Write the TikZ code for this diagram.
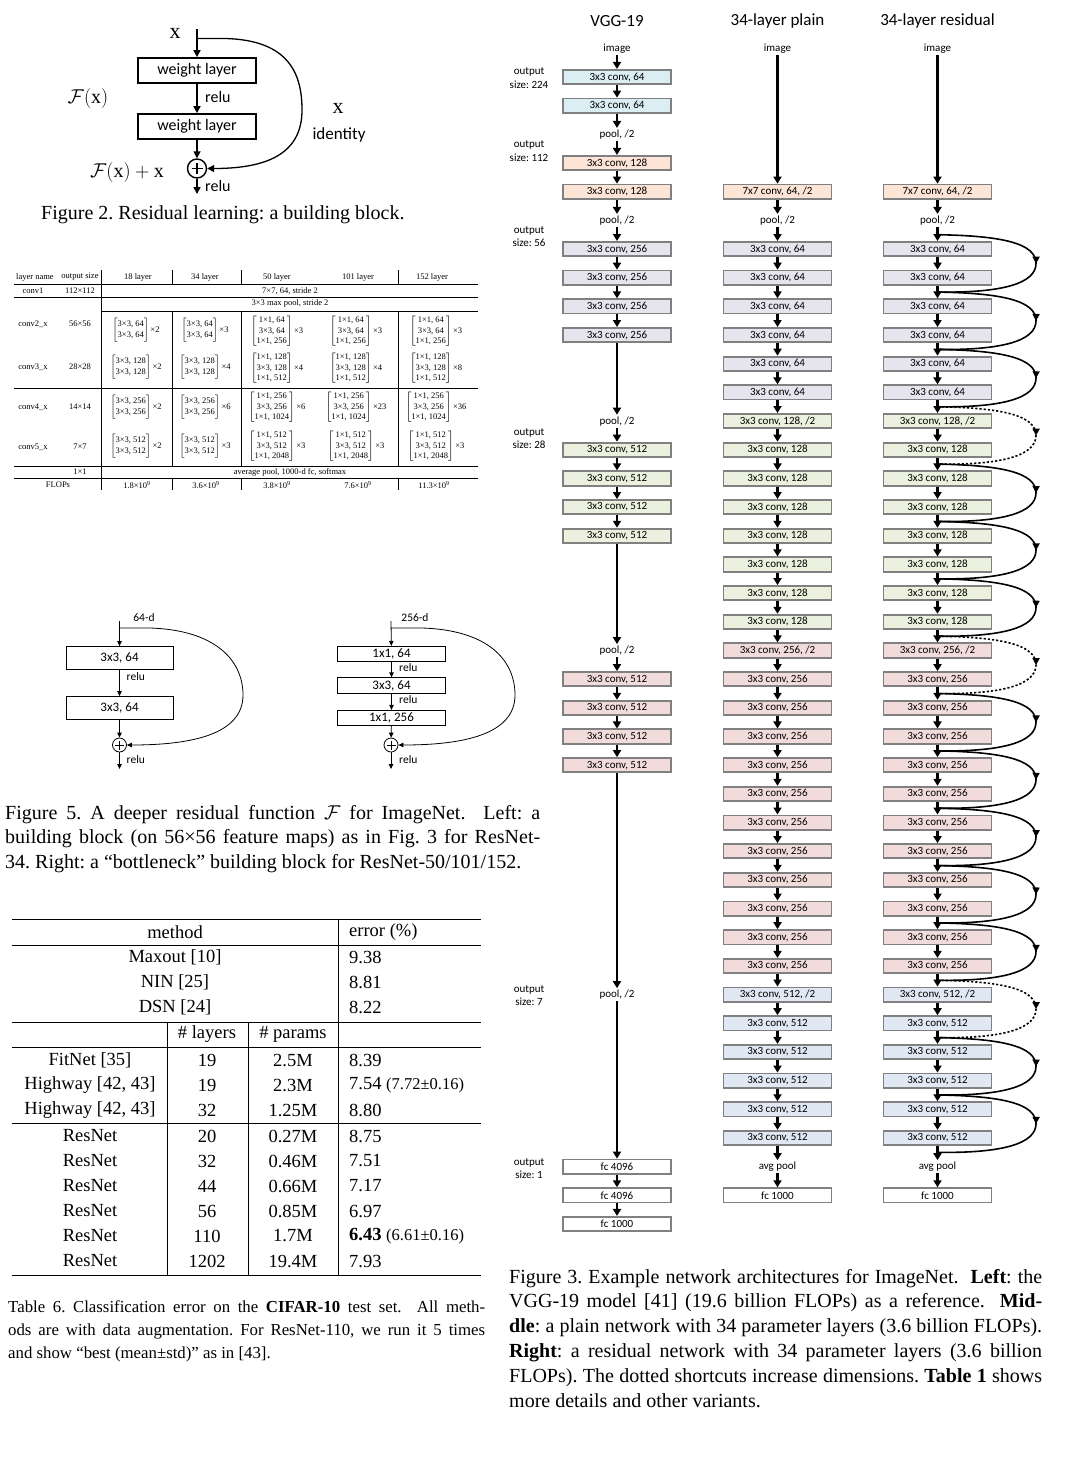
\RequirePackage{fix-cm}
\documentclass[tikz,border=0pt]{standalone}
\usepackage{fontspec}
\setmainfont{Liberation Serif}
\newfontfamily\calib{Carlito}
\usetikzlibrary{arrows.meta,decorations.markings}
\newcommand\myfs[2]{\fontsize{#1}{#2}\selectfont}
\newcommand\brk[2]{$\left[\mbox{\begin{tabular}{@{}c@{}}#1\end{tabular}}\right]$\,×#2}
\newcommand\jline[2]{\makebox[#1][s]{#2}}
\definecolor{bxgray}{RGB}{128,128,128}
\definecolor{cblue}{RGB}{218,238,243}
\definecolor{cpeach}{RGB}{252,228,214}
\definecolor{clav}{RGB}{230,229,238}
\definecolor{cgreen}{RGB}{235,241,222}
\definecolor{cpink}{RGB}{242,220,219}
\definecolor{cgblue}{RGB}{224,233,243}
\newcommand\netcol[2]{%
  \node[plbl] (#1m1) at (#2,49) {image};
  \node[blk,fill=cpeach] (#14) at (#2,{77+4*28.675}) {7x7 conv, 64, /2};
  \node[plbl] (#15) at (#2,{77+5*28.675}) {pool, /2};
  \foreach \ro in {6,...,11}{\node[blk,fill=clav] (#1\ro) at (#2,{77+\ro*28.675}) {3x3 conv, 64};}
  \node[blk,fill=cgreen] (#112) at (#2,{77+12*28.675}) {3x3 conv, 128, /2};
  \foreach \ro in {13,...,19}{\node[blk,fill=cgreen] (#1\ro) at (#2,{77+\ro*28.675}) {3x3 conv, 128};}
  \node[blk,fill=cpink] (#120) at (#2,{77+20*28.675}) {3x3 conv, 256, /2};
  \foreach \ro in {21,...,31}{\node[blk,fill=cpink] (#1\ro) at (#2,{77+\ro*28.675}) {3x3 conv, 256};}
  \node[blk,fill=cgblue] (#132) at (#2,{77+32*28.675}) {3x3 conv, 512, /2};
  \foreach \ro in {33,...,37}{\node[blk,fill=cgblue] (#1\ro) at (#2,{77+\ro*28.675}) {3x3 conv, 512};}
  \node[plbl] (#138) at (#2,{77+38*28.675}) {avg pool};
  \node[blk,fill=white] (#139) at (#2,{77+39*28.675}) {fc 1000};
  \draw[farr] (#1m1) -- (#14);
  \foreach \ro in {4,...,38}{\pgfmathtruncatemacro\nb{\ro+1}\draw[farr] (#1\ro) -- (#1\nb);}
}
\begin{document}
\frenchspacing
\begin{tikzpicture}[x=1pt,y=-1pt,
  every node/.style={inner sep=0pt},
  blk/.style={draw=bxgray, line width=1.8pt, minimum width=108pt, minimum height=14.3pt, font=\calib\myfs{11}{13}},
  plbl/.style={font=\calib\myfs{11}{13}, inner sep=1.5pt},
  olbl/.style={font=\calib\myfs{11}{13.5}, align=center},
  ttl/.style={font=\calib\myfs{17}{20}},
  farr/.style={-{Triangle[width=8pt,length=7pt]}, line width=2.2pt},
  sc/.style={line width=1.6pt, postaction={decorate}, decoration={markings, mark=at position 0.5 with {\arrow{Triangle[width=7pt,length=7pt]}}}},
  scsolid/.style={solid},
  scdot/.style={dash pattern=on 2.2pt off 2pt},
  wbox/.style={draw, line width=1.7pt, minimum width=118pt, minimum height=25pt, font=\calib\myfs{16}{19}},
  f2arr/.style={-{Triangle[width=7pt,length=7pt]}, line width=1.6pt},
  f5box/.style={draw, line width=0.8pt, font=\calib\myfs{13}{15}},
  f5arr/.style={-{Triangle[width=4.5pt,length=5pt]}, line width=0.8pt},
  f5lbl/.style={font=\calib\myfs{11.5}{13}},
  capl/.style={anchor=base west, font=\myfs{20}{24}},
  t1/.style={font=\myfs{8.5}{10.5}},
  t6/.style={font=\myfs{18.5}{22}},
]
\useasboundingbox (0,0) rectangle (1078,1470);
\fill[white] (0,0) rectangle (1078,1470);

%================ Figure 2 ================
\node[font=\myfs{22}{24}] (x2lbl) at (175,33) {x};
\coordinate (f2in) at (197,29);
\node[wbox] (w1) at (197,70.5) {weight layer};
\node[wbox] (w2) at (197,126.5) {weight layer};
\node[circle, draw, line width=1.4pt, minimum size=19pt] (add2) at (197,168.5) {};
\draw[line width=1.8pt] ([xshift=-5.5pt]add2.center) -- ([xshift=5.5pt]add2.center)
  ([yshift=-5.5pt]add2.center) -- ([yshift=5.5pt]add2.center);
\coordinate (f2out) at (197,194);
\coordinate (f2split) at (197,38.5);
\draw[f2arr] (f2in) -- (w1);
\draw[f2arr] (w1) -- (w2);
\draw[f2arr] (w2) -- (add2);
\draw[f2arr] (add2) -- (f2out);
\draw[f2arr, line width=1.3pt] (f2split) -- (225,38.5) .. controls (290,40) and (302,75) .. (302,110)
  .. controls (302,155) and (265,168.5) .. (add2.east);
\node[anchor=west, font=\calib\myfs{16}{19}] (relu2a) at (205,97) {relu};
\node[anchor=west, font=\calib\myfs{16}{19}] (relu2b) at (205,186) {relu};
\node[font=\myfs{22}{24}] (x2id) at (338,108) {x};
\node[font=\calib\myfs{17}{20}] (id2) at (339,135) {identity};
\node[font=\myfs{20}{22}] (fx2) at (88,98) {$\mathcal{F}(\mathrm{x})$};
\node[font=\myfs{20}{22}] (fxx2) at (127,172) {$\mathcal{F}(\mathrm{x})+\mathrm{x}$};
\node[capl] (cap2) at (41,219) {Figure 2. Residual learning: a building block.};

%================ Table 1 ================
\draw[line width=0.5pt] (14,284) -- (478,284);
\draw[line width=0.8pt] (14,297) -- (478,297);
\draw[line width=0.5pt] (101,311) -- (478,311);
\draw[line width=0.8pt] (14,388) -- (478,388);
\draw[line width=0.8pt] (14,466) -- (478,466);
\draw[line width=0.5pt] (14,478) -- (478,478);
\draw[line width=0.6pt] (101,270) -- (101,490);
\foreach \vx in {172,241,398}{
  \draw[line width=0.6pt] (\vx,270) -- (\vx,284) (\vx,311) -- (\vx,466) (\vx,478) -- (\vx,490);}
\node[t1] (h1) at (35,277) {layer name};
\node[t1] (h2) at (80,277) {output size};
\node[t1] (h3) at (138,277) {18 layer};
\node[t1] (h4) at (205,277) {34 layer};
\node[t1] (h5) at (277,277) {50 layer};
\node[t1] (h6) at (358,277) {101 layer};
\node[t1] (h7) at (432,277) {152 layer};
\node[t1] (c1a) at (33,291) {conv1};
\node[t1] (c1b) at (80,291) {112×112};
\node[t1] (c1c) at (290,291) {7×7, 64, stride 2};
\node[t1] (mp) at (290,303.5) {3×3 max pool, stride 2};
\node[t1] (c2a) at (33,324) {conv2\_x};
\node[t1] (c2b) at (80,324) {56×56};
\node[t1] (c3a) at (33,367) {conv3\_x};
\node[t1] (c3b) at (80,367) {28×28};
\node[t1] (c4a) at (33,407) {conv4\_x};
\node[t1] (c4b) at (80,407) {14×14};
\node[t1] (c5a) at (33,447) {conv5\_x};
\node[t1] (c5b) at (80,447) {7×7};
\node[t1] (c6b) at (80,472) {1×1};
\node[t1] (c6c) at (290,472) {average pool, 1000-d fc, softmax};
\node[t1] (fl) at (58,485) {FLOPs};
\node[t1] (fl1) at (137,485) {1.8×10\textsuperscript{9}};
\node[t1] (fl2) at (206,485) {3.6×10\textsuperscript{9}};
\node[t1] (fl3) at (277,485) {3.8×10\textsuperscript{9}};
\node[t1] (fl4) at (358,485) {7.6×10\textsuperscript{9}};
\node[t1] (fl5) at (434,485) {11.3×10\textsuperscript{9}};
% 18 layer
\node[t1] (e18a) at (136,330) {\brk{3×3, 64\\3×3, 64}{2}};
\node[t1] (e18b) at (136,367) {\brk{3×3, 128\\3×3, 128}{2}};
\node[t1] (e18c) at (136,407) {\brk{3×3, 256\\3×3, 256}{2}};
\node[t1] (e18d) at (136,446) {\brk{3×3, 512\\3×3, 512}{2}};
% 34 layer
\node[t1] (e34a) at (205,330) {\brk{3×3, 64\\3×3, 64}{3}};
\node[t1] (e34b) at (205,367) {\brk{3×3, 128\\3×3, 128}{4}};
\node[t1] (e34c) at (205,407) {\brk{3×3, 256\\3×3, 256}{6}};
\node[t1] (e34d) at (205,446) {\brk{3×3, 512\\3×3, 512}{3}};
% 50 layer
\node[t1] (e50a) at (277,331) {\brk{1×1, 64\\3×3, 64\\1×1, 256}{3}};
\node[t1] (e50b) at (277,368) {\brk{1×1, 128\\3×3, 128\\1×1, 512}{4}};
\node[t1] (e50c) at (277,407) {\brk{1×1, 256\\3×3, 256\\1×1, 1024}{6}};
\node[t1] (e50d) at (277,446) {\brk{1×1, 512\\3×3, 512\\1×1, 2048}{3}};
% 101 layer
\node[t1] (e101a) at (356,331) {\brk{1×1, 64\\3×3, 64\\1×1, 256}{3}};
\node[t1] (e101b) at (356,368) {\brk{1×1, 128\\3×3, 128\\1×1, 512}{4}};
\node[t1] (e101c) at (356,407) {\brk{1×1, 256\\3×3, 256\\1×1, 1024}{23}};
\node[t1] (e101d) at (356,446) {\brk{1×1, 512\\3×3, 512\\1×1, 2048}{3}};
% 152 layer
\node[t1] (e152a) at (436,331) {\brk{1×1, 64\\3×3, 64\\1×1, 256}{3}};
\node[t1] (e152b) at (436,368) {\brk{1×1, 128\\3×3, 128\\1×1, 512}{8}};
\node[t1] (e152c) at (436,407) {\brk{1×1, 256\\3×3, 256\\1×1, 1024}{36}};
\node[t1] (e152d) at (436,446) {\brk{1×1, 512\\3×3, 512\\1×1, 2048}{3}};

%================ Figure 5 ================
% left block
\coordinate (a0) at (119.5,621);
\coordinate (asplit) at (119.5,628);
\node[f5box, minimum width=107pt, minimum height=23pt] (a1) at (119.5,658) {3x3, 64};
\node[f5box, minimum width=107pt, minimum height=23pt] (a2) at (119.5,708) {3x3, 64};
\node[circle, draw, line width=0.8pt, minimum size=14pt] (aadd) at (119.5,745) {};
\draw[line width=0.8pt] ([xshift=-4.5pt]aadd.center) -- ([xshift=4.5pt]aadd.center)
  ([yshift=-4.5pt]aadd.center) -- ([yshift=4.5pt]aadd.center);
\coordinate (aout) at (119.5,769);
\draw[f5arr] (a0) -- (a1);
\draw[f5arr] (a1) -- (a2);
\draw[f5arr] (a2) -- (aadd);
\draw[f5arr] (aadd) -- (aout);
\draw[f5arr] (asplit) -- (150,628) .. controls (215,630) and (243,660) .. (243,695)
  .. controls (243,735) and (190,745) .. (aadd.east);
\node[f5lbl] (ad) at (144,618) {64-d};
\node[f5lbl, anchor=west] (ar1) at (126.5,677) {relu};
\node[f5lbl, anchor=west] (ar2) at (126.5,760) {relu};
% right block
\coordinate (b0) at (391,621);
\coordinate (bsplit) at (391,628);
\node[f5box, minimum width=108pt, minimum height=15.5pt] (b1) at (391.5,654) {1x1, 64};
\node[f5box, minimum width=108pt, minimum height=15.5pt] (b2) at (391.5,685.5) {3x3, 64};
\node[f5box, minimum width=108pt, minimum height=15.5pt] (b3) at (391.5,718) {1x1, 256};
\node[circle, draw, line width=0.8pt, minimum size=14pt] (badd) at (391,745) {};
\draw[line width=0.8pt] ([xshift=-4.5pt]badd.center) -- ([xshift=4.5pt]badd.center)
  ([yshift=-4.5pt]badd.center) -- ([yshift=4.5pt]badd.center);
\coordinate (bout) at (391,769);
\draw[f5arr] (b0) -- (b1);
\draw[f5arr] (b1) -- (b2);
\draw[f5arr] (b2) -- (b3);
\draw[f5arr] (b3) -- (badd);
\draw[f5arr] (badd) -- (bout);
\draw[f5arr] (bsplit) -- (422,628) .. controls (488,630) and (515,660) .. (515,695)
  .. controls (515,735) and (462,745) .. (badd.east);
\node[f5lbl] (bd) at (415,618) {256-d};
\node[f5lbl, anchor=west] (br1) at (399,668) {relu};
\node[f5lbl, anchor=west] (br2) at (399,700) {relu};
\node[f5lbl, anchor=west] (br3) at (399,760) {relu};
% caption
\node[capl] (cap5a) at (5,819) {\jline{535pt}{Figure 5. A deeper residual function $\mathcal{F}$ for ImageNet.\ \ Left: a}};
\node[capl] (cap5b) at (5,843) {\jline{535pt}{building block (on 56×56 feature maps) as in Fig. 3 for ResNet-}};
\node[capl] (cap5c) at (5,868) {34. Right: a “bottleneck” building block for ResNet-50/101/152.};

%================ Table 6 ================
\draw[line width=0.9pt] (12,919) -- (481,919) (12,945) -- (481,945) (12,1022) -- (481,1022)
  (12,1047) -- (481,1047) (12,1123) -- (481,1123) (12,1275) -- (481,1275);
\draw[line width=0.9pt] (338,919) -- (338,1275) (167,1022) -- (167,1275) (248,1022) -- (248,1275);
\node[t6] (m0) at (175,932) {method};
\node[t6, anchor=west] (er0) at (349,932) {error (\%)};
\node[t6] (m1) at (175,957) {Maxout [10]};
\node[t6, anchor=west] (er1) at (349,957) {9.38};
\node[t6] (m2) at (175,982) {NIN [25]};
\node[t6, anchor=west] (er2) at (349,982) {8.81};
\node[t6] (m3) at (175,1007) {DSN [24]};
\node[t6, anchor=west] (er3) at (349,1007) {8.22};
\node[t6] (hl) at (207,1034) {\# layers};
\node[t6] (hp) at (293,1034) {\# params};
\foreach \ro/\me/\la/\pa/\er in {
  1060/{FitNet [35]}/19/2.5M/8.39,
  1085/{Highway [42, 43]}/19/2.3M/{7.54 {\myfs{16.5}{20}(7.72±0.16)}},
  1110/{Highway [42, 43]}/32/1.25M/8.80,
  1136/ResNet/20/0.27M/8.75,
  1161/ResNet/32/0.46M/7.51,
  1186/ResNet/44/0.66M/7.17,
  1211/ResNet/56/0.85M/6.97,
  1236/ResNet/110/1.7M/{\textbf{6.43} {\myfs{16.5}{20}(6.61±0.16)}},
  1261/ResNet/1202/19.4M/7.93}{
  \node[t6] (tm\ro) at (90,\ro) {\me};
  \node[t6] (tl\ro) at (207,\ro) {\la};
  \node[t6] (tp\ro) at (293,\ro) {\pa};
  \node[t6, anchor=west] (te\ro) at (349,\ro) {\er};
}
\node[anchor=base west, font=\myfs{16.8}{21}] (cap6a) at (8,1312) {\jline{477pt}{Table 6. Classification error on the \textbf{CIFAR-10} test set.\ \ All meth-}};
\node[anchor=base west, font=\myfs{16.8}{21}] (cap6b) at (8,1335) {\jline{477pt}{ods are with data augmentation. For ResNet-110, we run it 5 times}};
\node[anchor=base west, font=\myfs{16.8}{21}] (cap6c) at (8,1358) {and show “best (mean±std)” as in [43].};

%================ Figure 3 ================
\node[ttl] (tv) at (617,21) {VGG-19};
\node[ttl] (tpl) at (777.5,21) {34-layer plain};
\node[ttl] (tres) at (937.5,21) {34-layer residual};
\node[olbl] (o224) at (529,78) {output\\size: 224};
\node[olbl] (o112) at (529,151) {output\\size: 112};
\node[olbl] (o56) at (529,236.5) {output\\size: 56};
\node[olbl] (o28) at (529,438.5) {output\\size: 28};
\node[olbl] (o7) at (529,995.5) {output\\size: 7};
\node[olbl] (o1) at (529,1168.5) {output\\size: 1};
% VGG column
\node[plbl] (vm1) at (617,49) {image};
\foreach \ro/\tx/\co in {0/{3x3 conv, 64}/cblue, 1/{3x3 conv, 64}/cblue,
  3/{3x3 conv, 128}/cpeach, 4/{3x3 conv, 128}/cpeach,
  6/{3x3 conv, 256}/clav, 7/{3x3 conv, 256}/clav, 8/{3x3 conv, 256}/clav, 9/{3x3 conv, 256}/clav,
  13/{3x3 conv, 512}/cgreen, 14/{3x3 conv, 512}/cgreen, 15/{3x3 conv, 512}/cgreen, 16/{3x3 conv, 512}/cgreen,
  21/{3x3 conv, 512}/cpink, 22/{3x3 conv, 512}/cpink, 23/{3x3 conv, 512}/cpink, 24/{3x3 conv, 512}/cpink,
  38/{fc 4096}/white, 39/{fc 4096}/white, 40/{fc 1000}/white}{
  \node[blk, fill=\co] (v\ro) at (617,{77+\ro*28.675}) {\tx};
}
\foreach \ro in {2,5,12,20,32}{\node[plbl] (v\ro) at (617,{77+\ro*28.675}) {pool, /2};}
\foreach \ra/\rb in {m1/0,0/1,1/2,2/3,3/4,4/5,5/6,6/7,7/8,8/9,9/12,12/13,13/14,14/15,15/16,16/20,
  20/21,21/22,22/23,23/24,24/32,32/38,38/39,39/40}{\draw[farr] (v\ra) -- (v\rb);}
% plain and residual columns
\netcol{p}{777.5}
\netcol{r}{937.5}
% shortcuts
\foreach \k in {5,7,...,37}{\coordinate (j\k) at (937.5,{77+\k*28.675+14.34});}
\foreach \k in {5,7,...,35}{\coordinate (mid\k) at (1036,{77+\k*28.675+14.34+28.675});}
\foreach \ra/\st in {5/scsolid,7/scsolid,9/scsolid,11/scdot,13/scsolid,15/scsolid,17/scsolid,19/scdot,
  21/scsolid,23/scsolid,25/scsolid,27/scsolid,29/scsolid,31/scdot,33/scsolid,35/scsolid}{
  \pgfmathtruncatemacro\nb{\ra+2}
  \draw[sc,\st] (j\ra) .. controls +(65,1) and +(0,-20) .. (mid\ra) .. controls +(0,20) and +(65,1) .. (j\nb);
}
% caption
\node[capl] (cap3a) at (509,1283) {\jline{533pt}{Figure 3. Example network architectures for ImageNet.\ \ \textbf{Left}: the}};
\node[capl] (cap3b) at (509,1307) {\jline{533pt}{VGG-19 model [41] (19.6 billion FLOPs) as a reference.\ \ \textbf{Mid-}}};
\node[capl] (cap3c) at (509,1332) {\jline{533pt}{\textbf{dle}: a plain network with 34 parameter layers (3.6 billion FLOPs).}};
\node[capl] (cap3d) at (509,1357) {\jline{533pt}{\textbf{Right}: a residual network with 34 parameter layers (3.6 billion}};
\node[capl] (cap3e) at (509,1382) {\jline{533pt}{FLOPs). The dotted shortcuts increase dimensions. \textbf{Table 1} shows}};
\node[capl] (cap3f) at (509,1407) {more details and other variants.};
\end{tikzpicture}
\end{document}
